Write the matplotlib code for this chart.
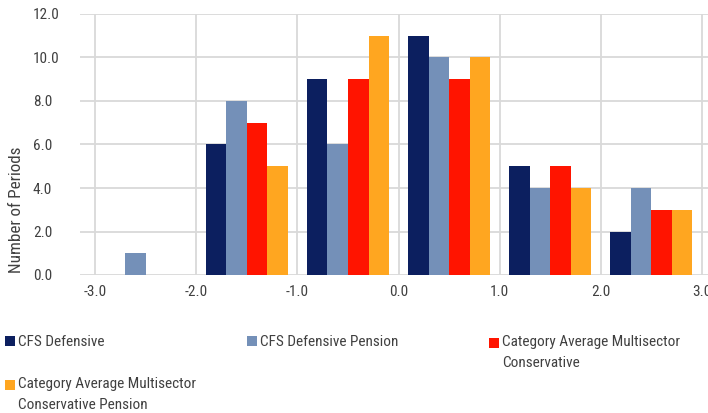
import numpy as np
import matplotlib.pyplot as plt
from matplotlib.ticker import FormatStrFormatter
from matplotlib.patches import Rectangle
from matplotlib.legend_handler import HandlerPatch

plt.rcParams['font.family'] = ['Roboto Condensed', 'Liberation Sans Narrow', 'Roboto', 'DejaVu Sans']

bins = [-2.5, -1.5, -0.5, 0.5, 1.5, 2.5]
series = ['CFS Defensive', 'CFS Defensive Pension',
          'Category Average Multisector\nConservative',
          'Category Average Multisector\nConservative Pension']
cfs_def = [0, 6, 9, 11, 5, 2]
cfs_def_pension = [1, 8, 6, 10, 4, 4]
cat_avg = [0, 7, 9, 9, 5, 3]
cat_avg_pension = [0, 5, 11, 10, 4, 3]
colors = ['#0C1F5F', '#7490B8', '#FF1400', '#FFA620']

values = [cfs_def, cfs_def_pension, cat_avg, cat_avg_pension]

fig = plt.figure(figsize=(7.08, 4.13), dpi=100)
ax = fig.add_axes([80/708, 138/413, 628/708, 261/413])

w = 0.203
x = np.array(bins)
bars = []
for i, (vals, c) in enumerate(zip(values, colors)):
    b = ax.bar(x + (i - 1.5) * w, vals, width=w, color=c, zorder=3)
    bars.append(b)

ax.set_xlim(-3.15, 3.06)
ax.set_ylim(0, 12)
ax.set_xticks(np.arange(-3, 4, 1))
ax.set_yticks(np.arange(0, 13, 2))
ax.xaxis.set_major_formatter(FormatStrFormatter('%.1f'))
ax.yaxis.set_major_formatter(FormatStrFormatter('%.1f'))
ax.grid(True, color='#D9D9D9', linewidth=1.3, zorder=0)
for s in ax.spines.values():
    s.set_visible(False)
ax.tick_params(length=0, labelsize=11, colors='#404040')
ax.tick_params(axis='x', pad=7)
ax.tick_params(axis='y', pad=34)
for lab in ax.get_yticklabels():
    lab.set_horizontalalignment('left')
ax.set_ylabel('Number of Periods', fontsize=12.3, color='#404040')
ax.yaxis.set_label_coords(-56/628, 0.249)


def top_patch(shift):
    # put the square next to the first line of a two-line label
    def make(legend, orig_handle, xdescent, ydescent, width, height, fontsize):
        return Rectangle((-xdescent, -ydescent + shift), width, height)
    return HandlerPatch(patch_func=make)


pos = [(5/708, 1 - 335/413), (247/708, 1 - 335/413),
       (489/708, 1 - 335/413), (5/708, 1 - 377/413)]
for b, lab, p in zip(bars, series, pos):
    shift = 7.2 if '\n' in lab else 0
    leg = fig.legend([b[0]], [lab], loc='upper left', bbox_to_anchor=p, frameon=False,
                     fontsize=11, handlelength=0.65, handleheight=0.65, handletextpad=0.2,
                     labelcolor='#404040', borderaxespad=0, borderpad=0,
                     handler_map={b[0]: top_patch(shift)})
    for t in leg.get_texts():
        t.set_linespacing(1.65)

fig.savefig('out.png', dpi=100)
